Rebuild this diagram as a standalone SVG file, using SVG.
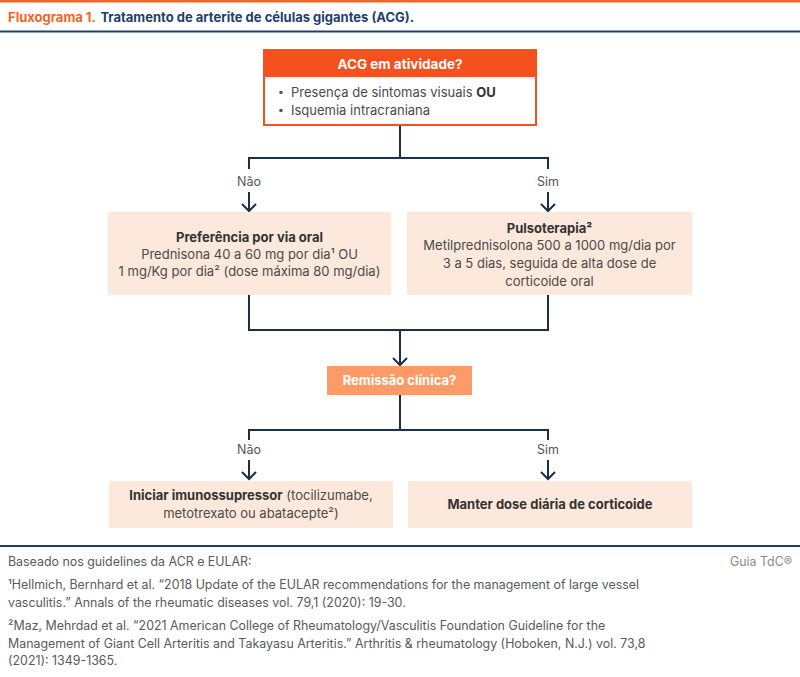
<svg xmlns="http://www.w3.org/2000/svg" width="800" height="677" viewBox="0 0 800 677">
<defs>
<style>
text{font-family:Inter,"Noto Sans","Liberation Sans",sans-serif;}
.title{font-size:13px;font-weight:700;}
.box{fill:#fde8dc;}
.bt{font-size:13px;fill:#4a4a4a;text-anchor:middle;}
.bb{font-weight:700;fill:#333;}
.lbl{font-size:12.5px;fill:#555;text-anchor:middle;}
.con{fill:none;stroke:#1c2e4a;stroke-width:2;}
.foot{font-size:12.4px;fill:#5a5a5a;}
</style>
</defs>
<rect x="0" y="0" width="800" height="677" fill="#fff"/>
<rect x="0" y="0" width="800" height="2.5" fill="#f26522"/>
<text x="8" y="22" class="title"><tspan fill="#f26522">Fluxograma 1.</tspan><tspan fill="#1d3f6e" dx="5">Tratamento de arterite de células gigantes (ACG).</tspan></text>
<rect x="0" y="30.5" width="800" height="2" fill="#1d3f6e"/>

<g id="connectors">
<path class="con" d="M400,125 V158 M249,169 V158 H548 V169"/>
<path class="con" d="M249,192 V211 M242,204 L249,211 L256,204"/>
<path class="con" d="M548,192 V211 M541,204 L548,211 L555,204"/>
<path class="con" d="M249,295 V330 H548 V295 M400,330 V365 M393,358 L400,365 L407,358"/>
<path class="con" d="M400,395 V430 M249,440 V430 H548 V440"/>
<path class="con" d="M249,460 V479 M242,472 L249,479 L256,472"/>
<path class="con" d="M548,460 V479 M541,472 L548,479 L555,472"/>
<text x="249" y="186" class="lbl">Não</text>
<text x="548" y="186" class="lbl">Sim</text>
<text x="249" y="454" class="lbl">Não</text>
<text x="548" y="454" class="lbl">Sim</text>
</g>

<g id="n-acg">
<rect x="264" y="50" width="272" height="75" fill="#fff" stroke="#f4511e" stroke-width="2"/>
<rect x="264" y="50" width="272" height="27" fill="#f4511e"/>
<text x="400" y="69" class="bt" style="fill:#fff;font-weight:700;font-size:13.5px">ACG em atividade?</text>
<circle cx="281" cy="92.5" r="1.8" fill="#555"/>
<circle cx="281" cy="110.5" r="1.8" fill="#555"/>
<text x="291" y="97" class="bt" style="text-anchor:start">Presença de sintomas visuais <tspan class="bb">OU</tspan></text>
<text x="291" y="115" class="bt" style="text-anchor:start">Isquemia intracraniana</text>
</g>

<g id="n-oral">
<rect x="108" y="212" width="283" height="83" class="box"/>
<text x="249.5" y="242" class="bt"><tspan class="bb">Preferência por via oral</tspan></text>
<text x="249.5" y="259" class="bt">Prednisona 40 a 60 mg por dia¹ OU</text>
<text x="249.5" y="276" class="bt">1 mg/Kg por dia² (dose máxima 80 mg/dia)</text>
</g>

<g id="n-pulso">
<rect x="407" y="212" width="285" height="83" class="box"/>
<text x="549.5" y="233" class="bt"><tspan class="bb">Pulsoterapia²</tspan></text>
<text x="549.5" y="250" class="bt">Metilprednisolona 500 a 1000 mg/dia por</text>
<text x="549.5" y="268" class="bt">3 a 5 dias, seguida de alta dose de</text>
<text x="549.5" y="286" class="bt">corticoide oral</text>
</g>

<g id="n-remissao">
<rect x="327" y="366" width="145" height="29" fill="#fd9a68"/>
<text x="399.5" y="385" class="bt" style="fill:#fff;font-weight:700">Remissão clínica?</text>
</g>

<g id="n-imuno">
<rect x="109" y="481" width="284" height="47" class="box"/>
<text x="251" y="500" class="bt"><tspan class="bb">Iniciar imunossupressor</tspan> (tocilizumabe,</text>
<text x="251" y="518" class="bt">metotrexato ou abatacepte²)</text>
</g>

<g id="n-manter">
<rect x="408" y="481" width="284" height="47" class="box"/>
<text x="550" y="509" class="bt"><tspan class="bb">Manter dose diária de corticoide</tspan></text>
</g>

<rect x="0" y="545" width="800" height="2" fill="#1d3f6e"/>
<text x="8" y="566" class="foot">Baseado nos guidelines da ACR e EULAR:</text>
<text x="792" y="566" class="foot" text-anchor="end" style="fill:#8a8a8a">Guia TdC®</text>
<text x="8" y="589" class="foot">¹Hellmich, Bernhard et al. “2018 Update of the EULAR recommendations for the management of large vessel</text>
<text x="8" y="607" class="foot">vasculitis.” Annals of the rheumatic diseases vol. 79,1 (2020): 19-30.</text>
<text x="8" y="630" class="foot">²Maz, Mehrdad et al. “2021 American College of Rheumatology/Vasculitis Foundation Guideline for the</text>
<text x="8" y="648" class="foot">Management of Giant Cell Arteritis and Takayasu Arteritis.” Arthritis &amp; rheumatology (Hoboken, N.J.) vol. 73,8</text>
<text x="8" y="665" class="foot">(2021): 1349-1365.</text>
</svg>
